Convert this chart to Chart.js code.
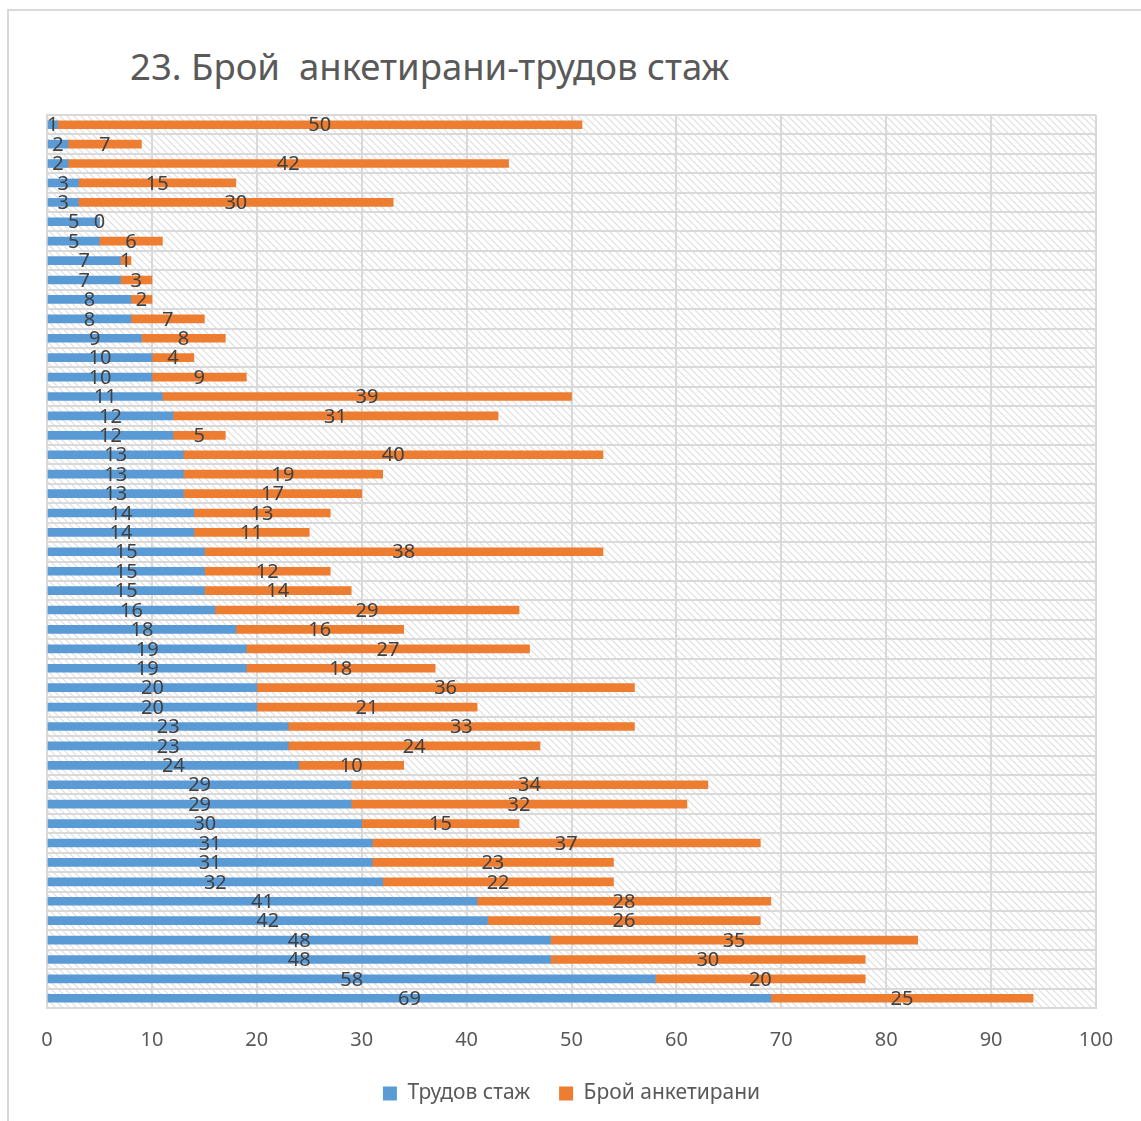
<!DOCTYPE html>
<html>
<head>
<meta charset="utf-8">
<script src="https://cdn.jsdelivr.net/npm/chart.js@4/dist/chart.umd.min.js"></script>
<style>
    body { margin: 0; background: #fff; }
    #frame {
        position: absolute; left: 7px; top: 9px; width: 1200px; height: 1200px;
        border: 2px solid #d9d9d9; box-sizing: border-box;
    }
    #title {
        position: absolute; left: 130px; top: 41px;
        font-family: 'Noto Sans', sans-serif; font-size: 36.5px; color: #595959;
        white-space: pre;
    }
    #wrap { position: absolute; left: 0; top: 0; width: 1141px; height: 1121px; }
</style>
</head>
<body>
<div id="frame"></div>
<div id="title">23. Брой  анкетирани-трудов стаж</div>
<div id="wrap"><canvas id="chart"></canvas></div>
<script>
// rows top to bottom
const stazh = [1, 2, 2, 3, 3, 5, 5, 7, 7, 8, 8, 9, 10, 10, 11, 12, 12, 13, 13, 13, 14, 14, 15, 15, 15, 16, 18, 19, 19, 20, 20, 23, 23, 24, 29, 29, 30, 31, 31, 32, 41, 42, 48, 48, 58, 69];
const broi = [50, 7, 42, 15, 30, 0, 6, 1, 3, 2, 7, 8, 4, 9, 39, 31, 5, 40, 19, 17, 13, 11, 38, 12, 14, 29, 16, 27, 18, 36, 21, 33, 24, 10, 34, 32, 15, 37, 23, 22, 28, 26, 35, 30, 20, 25];
const rows = stazh.map((v, i) => String(i + 1));
const seriesNames = ['Трудов стаж', 'Брой анкетирани'];

document.addEventListener('DOMContentLoaded', function() {
    // hatched plot background
    const tile = document.createElement('canvas');
    tile.width = 7; tile.height = 7;
    const tc = tile.getContext('2d');
    tc.fillStyle = '#ffffff';
    tc.fillRect(0, 0, 7, 7);
    tc.strokeStyle = '#dedede';
    tc.lineWidth = 1.2;
    tc.beginPath();
    tc.moveTo(-1, -1); tc.lineTo(8, 8);
    tc.moveTo(-1, 6); tc.lineTo(1, 8);
    tc.moveTo(6, -1); tc.lineTo(8, 1);
    tc.stroke();

    const hatch = {
        id: 'hatch',
        beforeDraw(chart) {
            const a = chart.chartArea;
            const ctx = chart.ctx;
            ctx.save();
            ctx.fillStyle = ctx.createPattern(tile, 'repeat');
            ctx.fillRect(a.left, a.top, a.right - a.left, a.bottom - a.top);
            ctx.restore();
        }
    };

    const valueLabels = {
        id: 'valueLabels',
        afterDatasetsDraw(chart) {
            const ctx = chart.ctx;
            ctx.save();
            ctx.font = '20px "Noto Sans", sans-serif';
            ctx.fillStyle = '#404040';
            ctx.textAlign = 'center';
            ctx.textBaseline = 'middle';
            chart.data.datasets.forEach((ds, di) => {
                chart.getDatasetMeta(di).data.forEach((bar, i) => {
                    const p = bar.getProps(['x', 'y', 'base'], true);
                    ctx.fillText(ds.data[i], (p.x + p.base) / 2, p.y + 1);
                });
            });
            ctx.restore();
        }
    };

    const ctx = document.getElementById('chart').getContext('2d');
    new Chart(ctx, {
        type: 'bar',
        data: {
            labels: rows,
            datasets: [{
                label: seriesNames[0],
                data: stazh,
                backgroundColor: '#5b9bd5',
                barThickness: 8
            }, {
                label: seriesNames[1],
                data: broi,
                backgroundColor: '#ed7d31',
                barThickness: 8
            }]
        },
        options: {
            indexAxis: 'y',
            responsive: true,
            maintainAspectRatio: false,
            animation: false,
            layout: { padding: { left: 47, right: 45, top: 115, bottom: 7 } },
            scales: {
                x: {
                    stacked: true,
                    min: 0, max: 100,
                    ticks: { stepSize: 10, color: '#595959', padding: 20, font: { family: 'Noto Sans', size: 20 } },
                    grid: { color: '#d9d9d9', lineWidth: 2, drawTicks: false },
                    border: { color: '#d9d9d9', width: 2 },
                    afterFit(scale) { scale.height = 46; }
                },
                y: {
                    stacked: true,
                    ticks: { display: false },
                    grid: { color: '#d9d9d9', lineWidth: 2, drawTicks: false, offset: true },
                    border: { color: '#d9d9d9', width: 2 }
                }
            },
            plugins: {
                legend: {
                    position: 'bottom',
                    labels: {
                        boxWidth: 14, boxHeight: 14, padding: 29, color: '#595959',
                        font: { family: 'Noto Sans', size: 21 }
                    }
                },
                tooltip: { enabled: false }
            }
        },
        plugins: [hatch, valueLabels]
    });
});
</script>
</body>
</html>
